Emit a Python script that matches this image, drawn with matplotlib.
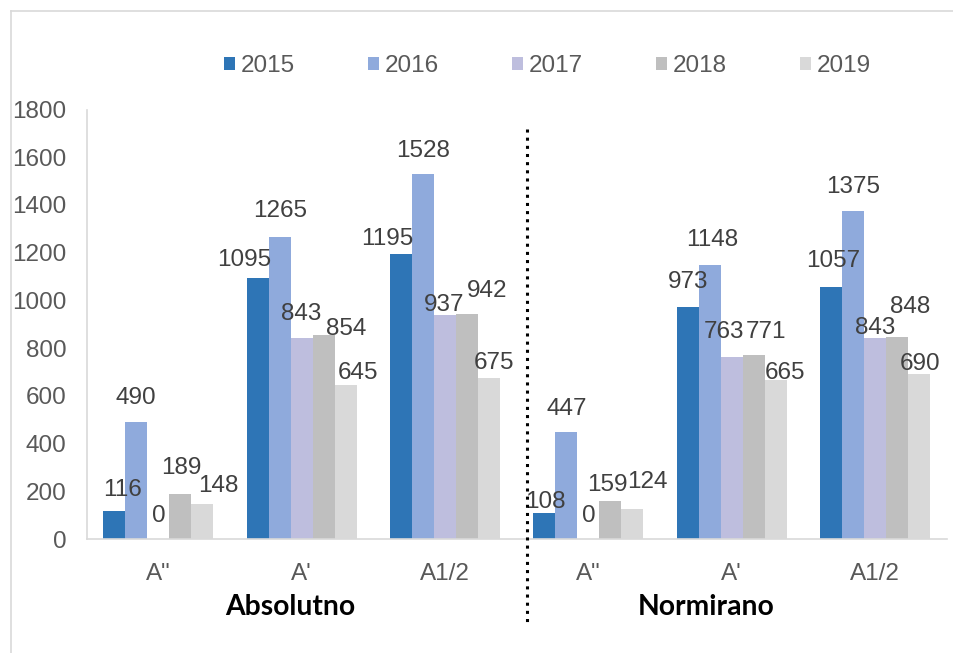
import matplotlib
matplotlib.use("Agg")
import matplotlib.pyplot as plt
import numpy as np
from matplotlib.patches import Patch
from matplotlib.lines import Line2D
from matplotlib.transforms import blended_transform_factory

# ---- data ----
categories = ['A"', "A'", "A1/2", 'A"', "A'", "A1/2"]
section_titles = ["Absolutno", "Normirano"]
years = ["2015", "2016", "2017", "2018", "2019"]
v2015 = [116, 1095, 1195, 108, 973, 1057]
v2016 = [490, 1265, 1528, 447, 1148, 1375]
v2017 = [0, 843, 937, 0, 763, 843]
v2018 = [189, 854, 942, 159, 771, 848]
v2019 = [148, 645, 675, 124, 665, 690]
series = [v2015, v2016, v2017, v2018, v2019]
y_ticks = [0, 200, 400, 600, 800, 1000, 1200, 1400, 1600, 1800]

# ---- style ----
colors = ["#2E75B6", "#8FAADC", "#BEBEDE", "#BFBFBF", "#D9D9D9"]
# label offsets in pixels (dx, dy above bar top), per series then category
label_off = [
    [(8.5, 21), (-13, 18), (-14, 15), (1.5, 11), (0.8, 25), (2, 25.7)],
    [(0, 24), (0.8, 25.7), (0, 23.3), (0.3, 23), (2, 25), (0, 24)],
    [(0.7, 22.5), (-0.5, 24), (-1, 10.7), (0.8, 22.5), (-8, 24.5), (0, 10)],
    [(1, 25.5), (23, 6), (20.3, 23.6), (-3.4, 16), (12, 23), (13, 30)],
    [(16.5, 18), (12, 12), (4.7, 15), (15.4, 27), (9, 7), (0.8, 10)],
]

plt.rcParams["font.family"] = ["Liberation Sans", "DejaVu Sans"]

W, H = 954, 653
fig = plt.figure(figsize=(W / 100, H / 100), dpi=100)
fig.patch.set_facecolor("white")

ax = fig.add_axes([86.6 / W, 1 - 539 / H, (946.8 - 86.6) / W, (539 - 109.5) / H])

n = len(series)
bw = 0.1535
x = np.arange(len(categories))
fs = 17.5
for i, vals in enumerate(series):
    pos = x + (i - (n - 1) / 2) * bw
    ax.bar(pos, vals, width=bw, color=colors[i], linewidth=0, label=years[i], zorder=2)
    for j, (p, v) in enumerate(zip(pos, vals)):
        dx, dy = label_off[i][j]
        ax.annotate(str(v), (p, v), xytext=(dx, dy), textcoords="offset pixels",
                    ha="center", va="center", fontsize=fs, color="#404040", zorder=3)

ax.set_xlim(-0.5, len(categories) - 0.5)
ax.set_ylim(0, 1800)
ax.set_yticks(y_ticks)
ax.set_yticklabels([str(t) for t in y_ticks])
ax.set_xticks(x)
ax.set_xticklabels(categories)
ax.tick_params(axis="y", length=0, pad=14.5, labelsize=fs, labelcolor="#595959")
ax.tick_params(axis="x", length=0, pad=17, labelsize=fs, labelcolor="#595959")
for s in ["top", "right"]:
    ax.spines[s].set_visible(False)
ax.spines["left"].set_color("#D9D9D9")
ax.spines["left"].set_linewidth(1.2)
ax.spines["bottom"].set_color("#D9D9D9")
ax.spines["bottom"].set_linewidth(1.2)
ax.set_facecolor("white")

# dotted separator
tr = blended_transform_factory(ax.transData, ax.transAxes)
ax.plot([2.572, 2.572], [0.9546, -0.1956], transform=tr, color="black",
        linewidth=2.2, linestyle=(0, (1, 1.67)), dash_capstyle="butt",
        solid_capstyle="butt", clip_on=False, zorder=4)

# section titles
ax.text(0.922, -0.158, section_titles[0], transform=tr, ha="center", va="center",
        fontsize=20.3, fontweight="bold", family=["Lato", "DejaVu Sans"], color="black")
ax.text(3.82, -0.158, section_titles[1], transform=tr, ha="center", va="center",
        fontsize=20.3, fontweight="bold", family=["Lato", "DejaVu Sans"], color="black")

# legend
handles = [Patch(facecolor=c, edgecolor="none") for c in colors]
fig.legend(handles, years, loc="center", bbox_to_anchor=(547.5 / W, 1 - 66 / H),
           ncol=5, frameon=False, fontsize=fs, labelcolor="#595959",
           handlelength=0.45, handleheight=0.45, handletextpad=0.25,
           columnspacing=3.0, borderpad=0, borderaxespad=0)

# chart border (top and left visible)
fig.add_artist(Line2D([11 / W, 1], [1 - 11 / H, 1 - 11 / H], transform=fig.transFigure,
                      color="#D9D9D9", linewidth=1.2))
fig.add_artist(Line2D([11 / W, 11 / W], [0, 1 - 11 / H], transform=fig.transFigure,
                      color="#D9D9D9", linewidth=1.2))

fig.savefig("out.png", dpi=100)
